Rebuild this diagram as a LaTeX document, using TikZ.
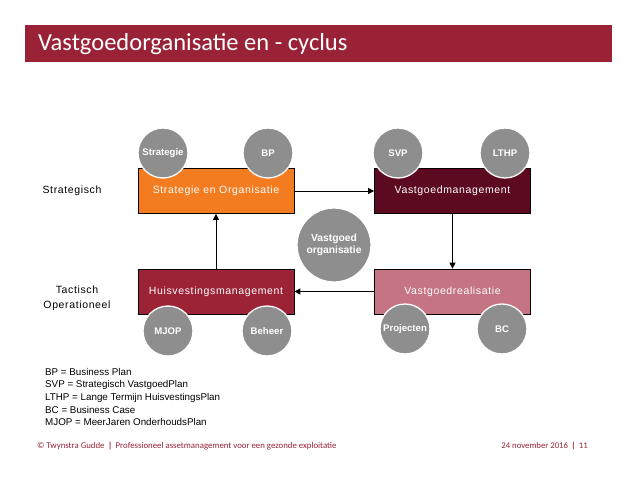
\documentclass[tikz,border=0pt]{standalone}
\usepackage{fontspec}
\setmainfont{Liberation Sans}
\newfontfamily\carlito{Carlito}
\newfontfamily\spaced[LetterSpace=6]{Liberation Sans}
\usetikzlibrary{arrows.meta}
\definecolor{barred}{HTML}{9A2236}
\definecolor{orangebox}{HTML}{F47C20}
\definecolor{darkmaroon}{HTML}{5C0A1F}
\definecolor{midred}{HTML}{9C2235}
\definecolor{pinkbox}{HTML}{C47482}
\definecolor{circgray}{HTML}{8E8E8E}
\tikzset{
  boxnode/.style={draw=black, line width=0.7pt, minimum width=156pt, minimum height=45pt, inner sep=0pt, text=white, font=\spaced\fontsize{10.5}{12}\selectfont},
  tag/.style={circle, fill=circgray, draw=white, line width=1.3pt, minimum size=50pt, inner sep=0pt, text=white, font=\bfseries\fontsize{9.6}{12}\selectfont},
  flow/.style={draw=black, line width=0.9pt, -{Triangle[length=6pt,width=6pt]}},
  sidelabel/.style={font=\spaced\fontsize{10.5}{15}\selectfont, align=center, inner sep=0pt},
}
\begin{document}
\begin{tikzpicture}[x=1pt, y=-1pt]
\useasboundingbox (0,0) rectangle (638,479);
\fill[white] (0,0) rectangle (638,479);
% title bar
\node[fill=barred, minimum width=587pt, minimum height=37pt, inner sep=0pt, anchor=north west] (bar) at (25,25) {};
\node[anchor=west, text=white, font=\carlito\fontsize{24.5}{28}\selectfont, inner sep=0pt] (title) at (38,44) {Vastgoedorganisatie en - cyclus};
% boxes
\node[boxnode, fill=orangebox] (so) at (216,191) {Strategie en Organisatie};
\node[boxnode, fill=darkmaroon] (vm) at (452.5,191) {Vastgoedmanagement};
\node[boxnode, fill=midred] (hm) at (216,291.5) {Huisvestingsmanagement};
\node[boxnode, fill=pinkbox] (vr) at (452.5,291.5) {Vastgoedrealisatie};
% arrows
\draw[flow] (so.east) -- (vm.west);
\draw[flow] (vm.south) -- (vr.north);
\draw[flow] (vr.west) -- (hm.east);
\draw[flow] (hm.north) -- (so.south);
% circles
\node[tag] (cstrat) at (163,153) {Strategie};
\node[tag] (cbp) at (268,153) {BP};
\node[tag] (csvp) at (398,153) {SVP};
\node[tag] (clthp) at (505,153) {LTHP};
\node[tag] (cmjop) at (168,331) {MJOP};
\node[tag] (cbeheer) at (267,331) {Beheer};
\node[tag] (cproj) at (405,329) {Projecten};
\node[tag] (cbc) at (502,329) {BC};
\node[tag, minimum size=74pt, align=center, font=\bfseries\fontsize{10.3}{12}\selectfont] (cvo) at (334,245) {Vastgoed\\organisatie};
% side labels
\node[sidelabel] (lstrat) at (72,191) {Strategisch};
\node[sidelabel] (ltact) at (77,298.5) {Tactisch\\Operationeel};
% legend
\node[anchor=north west, align=left, inner sep=0pt, font=\fontsize{9.8}{12.6}\selectfont] (legend) at (45,368) {BP = Business Plan\\SVP = Strategisch VastgoedPlan\\LTHP = Lange Termijn HuisvestingsPlan\\BC = Business Case\\MJOP = MeerJaren OnderhoudsPlan};
% footer
\node[anchor=west, inner sep=0pt, text=barred, font=\carlito\fontsize{8.8}{10}\selectfont] (footl) at (37,446) {© Twynstra Gudde \,\textbf{|}\, Professioneel assetmanagement voor een gezonde exploitatie};
\node[anchor=east, inner sep=0pt, text=barred, font=\carlito\fontsize{8.7}{10}\selectfont] (footr) at (588,446) {24 november 2016 \,\textbf{|}\, 11};
\end{tikzpicture}
\end{document}
